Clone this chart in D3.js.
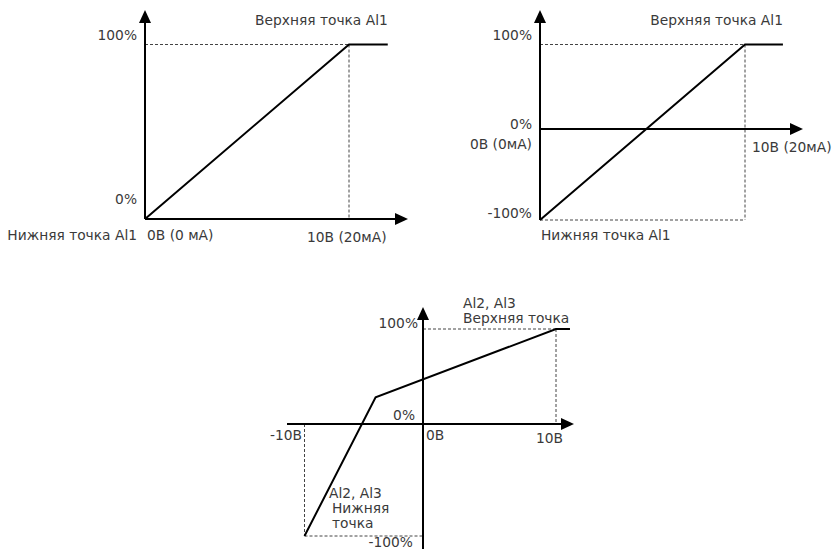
<!DOCTYPE html>
<html>
<head>
<meta charset="utf-8">
<script src="https://cdn.jsdelivr.net/npm/d3@7"></script>
<style>
  html, body { margin: 0; padding: 0; background: #fff; }
  svg { display: block; }
  text { font-family: "DejaVu Sans", "Noto Sans", sans-serif; font-size: 13.8px; fill: #3a3a3a; }
</style>
</head>
<body>
<svg id="chart" width="833" height="549"></svg>
<script>
// ---- Data ----
// Chart 1: AI1 0..10V (0..20mA) -> 0..100%
const c1X = [0, 10, 11.9];
const c1Y = [0, 100, 100];
const c1Labels = ["Верхняя точка Al1", "Нижняя точка Al1", "100%", "0%", "0В (0 мА)", "10В (20мА)"];

// Chart 2: AI1 0..10V (0..20mA) -> -100..100%
const c2X = [0, 10, 11.85];
const c2Y = [-100, 100, 100];
const c2Labels = ["Верхняя точка Al1", "Нижняя точка Al1", "100%", "0%", "-100%", "0В (0мА)", "10В (20мА)"];

// Chart 3: AI2, AI3 -10..10V -> -100..100%
const c3X = [-10, -4, 10, 11.05];
const c3Y = [-100, 28, 100, 100];
const c3UpperLabel = ["Al2, Al3", "Верхняя точка"];
const c3LowerLabel = ["Al2, Al3", "Нижняя", "точка"];
const c3Ticks = ["100%", "0%", "-100%", "-10В", "0В", "10В"];

// ---- Drawing ----
const svg = d3.select("#chart");
const line = (sx, sy) => d3.line().x(d => sx(d[0])).y(d => sy(d[1]));

function arrowUp(x, yTip) {
  svg.append("path").attr("d", `M${x},${yTip}L${x-6},${yTip+13}L${x+6},${yTip+13}Z`).attr("fill", "#000");
}
function arrowRight(xTip, y) {
  svg.append("path").attr("d", `M${xTip},${y}L${xTip-13},${y-6}L${xTip-13},${y+6}Z`).attr("fill", "#000");
}
function seg(x1, y1, x2, y2, dashed) {
  const l = svg.append("line").attr("x1", x1).attr("y1", y1).attr("x2", x2).attr("y2", y2)
    .attr("stroke", dashed ? "#444" : "#000").attr("stroke-width", dashed ? 1 : 2);
  if (dashed) l.attr("stroke-dasharray", "3,2");
}
function txt(x, y, s, anchor) {
  svg.append("text").attr("x", x).attr("y", y).attr("text-anchor", anchor || "start").text(s);
}
function multi(x, y, lines, anchor, dxs) {
  const t = svg.append("text").attr("x", x).attr("y", y).attr("text-anchor", anchor || "start");
  lines.forEach((s, i) => {
    t.append("tspan").attr("x", x + (dxs ? dxs[i] : 0)).attr("dy", i === 0 ? 0 : 15).text(s);
  });
}
function curve(xs, ys, sx, sy) {
  svg.append("path").datum(xs.map((v, i) => [v, ys[i]]))
    .attr("d", line(sx, sy)).attr("fill", "none").attr("stroke", "#000")
    .attr("stroke-width", 2).attr("stroke-linejoin", "miter");
}

// Chart 1
{
  const x = d3.scaleLinear().domain([0, 10]).range([145, 349]);
  const y = d3.scaleLinear().domain([0, 100]).range([219, 44.5]);
  seg(x(0), y(100), x(10), y(100), true);
  seg(x(10), y(100), x(10), y(0), true);
  seg(x(0), y(0), x(0), 20);
  arrowUp(x(0), 10);
  seg(x(0), y(0), 398, y(0));
  arrowRight(408, y(0));
  curve(c1X, c1Y, x, y);
  txt(x(c1X[2]), 25, c1Labels[0], "end");
  txt(137, 240, c1Labels[1], "end");
  txt(137, y(100) - 4.5, c1Labels[2], "end");
  txt(137, y(0) - 15, c1Labels[3], "end");
  txt(x(0) + 2, 240, c1Labels[4], "start");
  txt(307, 242, c1Labels[5], "start");
}

// Chart 2
{
  const x = d3.scaleLinear().domain([0, 10]).range([540, 745]);
  const y = d3.scaleLinear().domain([-100, 0, 100]).range([220, 129, 44.5]);
  seg(x(0), y(100), x(10), y(100), true);
  seg(x(10), y(100), x(10), y(-100), true);
  seg(x(0), y(-100), x(10), y(-100), true);
  seg(x(0), y(-100), x(0), 20);
  arrowUp(x(0), 10);
  seg(x(0), y(0), 793, y(0));
  arrowRight(803, y(0));
  curve(c2X, c2Y, x, y);
  txt(x(c2X[2]), 25, c2Labels[0], "end");
  txt(x(0) + 1, 240, c2Labels[1], "start");
  txt(532, y(100) - 4.5, c2Labels[2], "end");
  txt(532, y(0), c2Labels[3], "end");
  txt(532, 218, c2Labels[4], "end");
  txt(532, 149, c2Labels[5], "end");
  txt(752, 152, c2Labels[6], "start");
}

// Chart 3
{
  const x = d3.scaleLinear().domain([-10, 0, 10]).range([304.5, 423, 556]);
  const y = d3.scaleLinear().domain([-100, 0, 100]).range([536, 424, 329]);
  seg(x(0), y(100), x(10), y(100), true);
  seg(x(10), y(100), x(10), y(0), true);
  seg(x(-10), y(0), x(-10), y(-100), true);
  seg(x(-10), y(-100), x(0), y(-100), true);
  seg(x(0), 549, x(0), 317);
  arrowUp(x(0), 307);
  seg(287, y(0), 564, y(0));
  arrowRight(574, y(0));
  curve(c3X, c3Y, x, y);
  multi(463, 308, c3UpperLabel, "start");
  multi(329, 498, c3LowerLabel, "start", [0, 3, 3]);
  txt(418, 328, c3Ticks[0], "end");
  txt(415, 420, c3Ticks[1], "end");
  txt(413, 547, c3Ticks[2], "end");
  txt(302, 440, c3Ticks[3], "end");
  txt(426, 440, c3Ticks[4], "start");
  txt(563, 443, c3Ticks[5], "end");
}
</script>
</body>
</html>
